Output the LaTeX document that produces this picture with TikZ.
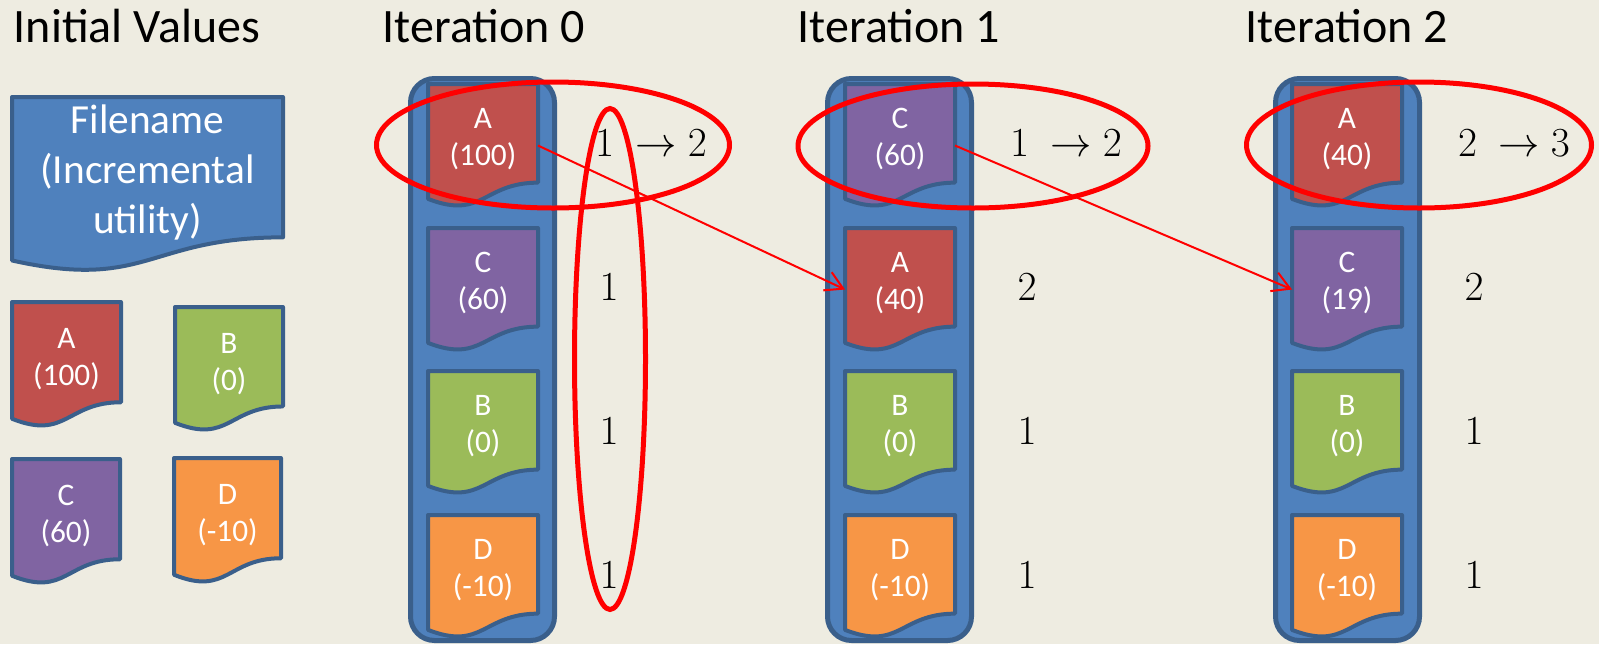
\RequirePackage{fix-cm}
\documentclass[tikz,border=0pt]{standalone}
\usepackage{fontspec}
\setmainfont{Carlito}
\usetikzlibrary{arrows.meta,shapes.geometric}

\definecolor{paper}{HTML}{EEECE1}
\definecolor{boxblue}{HTML}{4F81BD}
\definecolor{edgeblue}{HTML}{3A5F8B}
\definecolor{docred}{HTML}{C0504D}
\definecolor{docgreen}{HTML}{9BBB59}
\definecolor{docpurple}{HTML}{8064A2}
\definecolor{docorange}{HTML}{F79646}

% document shape: #1 name, #2 left, #3 top, #4 width, #5 height,
% #6 fill colour, #7 text, #8 options of the text node
\newcommand{\filedoc}[8]{%
  \draw[docline, fill=#6] (#2,#3) -- ({#2+#4},#3) -- ({#2+#4},{#3+0.802*#5})
    .. controls ({#2+#4/2},{#3+0.802*#5}) and ({#2+#4/2},{#3+1.1075*#5}) ..
    (#2,{#3+0.934*#5}) -- cycle;
  \node[docarea, minimum width={#4*0.75pt}, minimum height={#5*0.75pt}]
    (#1) at ({#2+#4/2},{#3+#5/2}) {};
  \node[anchor=north, #8] (#1-text) at (#1.north) {#7};
}

\begin{document}
\begin{tikzpicture}[x=0.75pt, y=-0.75pt,
  docline/.style={draw=edgeblue, line width=3pt, line join=round},
  docarea/.style={inner sep=0pt, outer sep=0pt},
  doctext/.style={text=white, align=center, inner sep=0pt,
    font=\fontsize{23.5}{27.5}\selectfont, yshift=-18pt},
  smalltext/.style={doctext, yshift=-1.5pt},
  bigtext/.style={text=white, align=center, inner sep=0pt,
    font=\fontsize{31}{37.5}\selectfont, yshift=-5.5pt},
  stack/.style={draw=edgeblue, fill=boxblue, line width=3.75pt,
    rounded corners=18pt, inner sep=0pt,
    minimum width=108pt, minimum height=421.5pt},
  title/.style={anchor=base, inner sep=0pt, font=\fontsize{36}{43}\selectfont},
  count/.style={anchor=base, inner sep=0pt, font=\fontsize{31}{37}\selectfont},
  ring/.style={ellipse, draw=red, line width=3.75pt, inner sep=0pt},
  link/.style={draw=red, line width=1.5pt,
    -{Straight Barb[length=13pt, width=15pt, line width=1.5pt]}}
]
\useasboundingbox (0,0) rectangle (1599,644);
\fill[paper] (0,0) rectangle (1599,644);

% headings
\node[title] (tInit) at (137,42.7) {Initial Values};
\node[title] (tIt0)  at (484,42.7) {Iteration 0};
\node[title] (tIt1)  at (899,42.7) {Iteration 1};
\node[title] (tIt2)  at (1347,42.7) {Iteration 2};

% initial values
\filedoc{fname}{12}{97}{271}{175}{boxblue}{Filename\\(Incremental\\utility)}{bigtext}
\filedoc{iA}{12}{302}{109}{125}{docred}{A\\(100)}{smalltext}
\filedoc{iB}{175}{307}{108}{124}{docgreen}{B\\(0)}{smalltext}
\filedoc{iC}{12}{459}{108}{125}{docpurple}{C\\(60)}{smalltext}
\filedoc{iD}{174}{458}{107}{125}{docorange}{D\\(-10)}{smalltext}

% iteration 0
\node[stack] (s0) at (482.5,359.5) {};
\filedoc{a0}{428}{84}{110}{123}{docred}{A\\(100)}{doctext}
\filedoc{c0}{428}{228}{110}{123}{docpurple}{C\\(60)}{doctext}
\filedoc{b0}{428}{371}{110}{123}{docgreen}{B\\(0)}{doctext}
\filedoc{d0}{428}{515}{110}{123}{docorange}{D\\(-10)}{doctext}
\node[count] (n0a) at (651,156) {$1\ \rightarrow 2$};
\node[count] (n0c) at (609,300) {$1$};
\node[count] (n0b) at (609,444) {$1$};
\node[count] (n0d) at (609,588) {$1$};

% iteration 1
\node[stack] (s1) at (899.5,359.5) {};
\filedoc{c1}{845}{84}{110}{123}{docpurple}{C\\(60)}{doctext}
\filedoc{a1}{845}{228}{110}{123}{docred}{A\\(40)}{doctext}
\filedoc{b1}{845}{371}{110}{123}{docgreen}{B\\(0)}{doctext}
\filedoc{d1}{845}{515}{110}{123}{docorange}{D\\(-10)}{doctext}
\node[count] (n1c) at (1066,156) {$1\ \rightarrow 2$};
\node[count] (n1a) at (1027,300) {$2$};
\node[count] (n1b) at (1027,444) {$1$};
\node[count] (n1d) at (1027,588) {$1$};

% iteration 2
\node[stack] (s2) at (1347.5,359.5) {};
\filedoc{a2}{1292}{84}{110}{123}{docred}{A\\(40)}{doctext}
\filedoc{c2}{1292}{228}{110}{123}{docpurple}{C\\(19)}{doctext}
\filedoc{b2}{1292}{371}{110}{123}{docgreen}{B\\(0)}{doctext}
\filedoc{d2}{1292}{515}{110}{123}{docorange}{D\\(-10)}{doctext}
\node[count] (n2a) at (1514,156) {$2\ \rightarrow 3$};
\node[count] (n2c) at (1474,300) {$2$};
\node[count] (n2b) at (1474,444) {$1$};
\node[count] (n2d) at (1474,588) {$1$};

% highlights
\node[ring, minimum width=264.75pt, minimum height=94.5pt] (h0) at (553,145) {};
\node[ring, minimum width=262.5pt, minimum height=93pt] (h1) at (973,146) {};
\node[ring, minimum width=258.75pt, minimum height=94.5pt] (h2) at (1419,145) {};
\node[ring, minimum width=53.25pt, minimum height=375.75pt] (hv) at (610,359) {};

% moves of the selected file
\draw[link] (a0.east) -- (a1.west);
\draw[link] (c1.east) -- (c2.west);
\end{tikzpicture}
\end{document}
